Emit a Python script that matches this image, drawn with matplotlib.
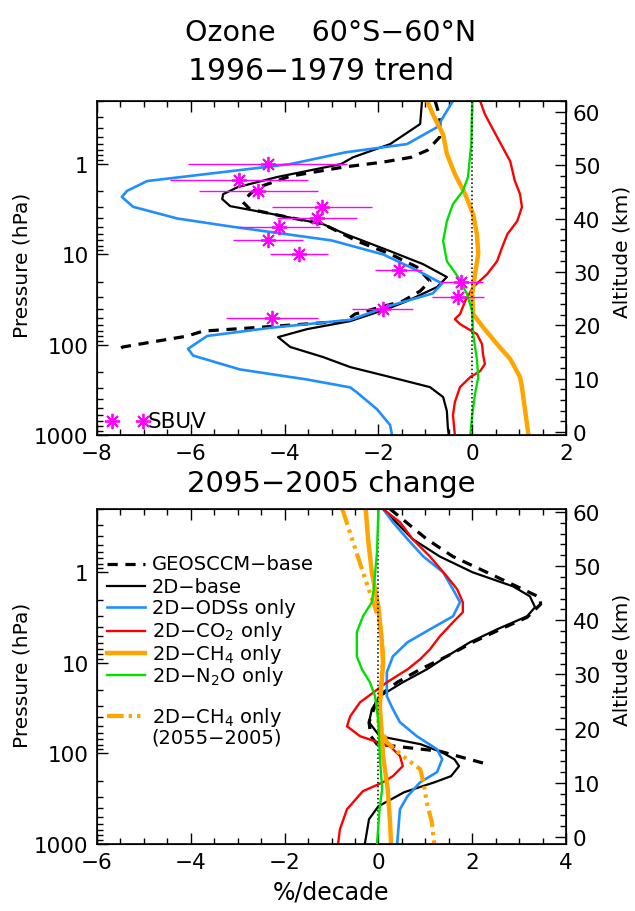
import numpy as np
import matplotlib.pyplot as plt
from matplotlib.ticker import MultipleLocator, LogLocator, NullFormatter

plt.rcParams['font.family'] = 'DejaVu Sans'

# ---------------- 1996-1979 trend (%/decade) ----------------
geos_p_t = [0.2, 0.3, 0.5, 0.7, 0.84, 0.95, 1.08, 1.36, 1.8, 2.15, 2.63, 3.15, 3.58,
            4.62, 5.96, 7.1, 9.9, 13.8, 19.8, 25.5, 32.9, 45.8, 54.8, 63.8, 70.7,
            80.3, 91.3, 106, 121]
geos_t = [-0.79, -0.69, -0.69, -0.95, -1.3, -1.9, -2.75, -3.88, -4.55, -4.74, -4.89,
          -4.74, -4.25, -3.18, -2.75, -2.46, -1.75, -1.18, -0.9, -1.11, -1.48, -2.5,
          -2.7, -4.46, -5.74, -6.08, -6.72, -7.45, -7.62]

base_p_t = [0.2, 0.36, 0.6, 0.84, 1.0, 1.39, 1.8, 2.15, 2.44, 2.92, 3.58, 4.62, 5.96,
            9.2, 12.8, 17.8, 23, 32.9, 40.3, 54.8, 67.2, 82.4, 106, 137, 177, 228,
            295, 380, 543, 816, 1000]
base_t = [-1.07, -1.11, -1.75, -2.54, -2.8, -4.16, -5.0, -5.31, -5.33, -5.16, -4.25,
          -3.18, -2.7, -1.75, -1.05, -0.54, -0.75, -1.39, -1.82, -2.6, -3.52, -4.14,
          -3.88, -3.18, -2.6, -1.75, -0.9, -0.62, -0.54, -0.52, -0.5]

ods_p_t = [0.2, 0.39, 0.6, 0.74, 1.0, 1.54, 1.98, 2.31, 2.97, 4.0, 4.9, 7.0, 10, 15,
           21, 27, 37, 53, 65, 80, 111, 132, 188, 243, 297, 337, 518, 776, 1000]
ods_t = [-0.41, -0.75, -1.39, -2.7, -3.88, -6.93, -7.36, -7.47, -7.23, -6.29, -5.16,
         -3.0, -1.9, -1.18, -0.64, -0.84, -1.75, -2.6, -4.3, -5.65, -6.06, -5.95,
         -4.95, -3.52, -2.6, -2.46, -2.03, -1.75, -1.71]

co2_p_t = [0.2, 0.28, 0.5, 0.93, 1.54, 2.15, 2.99, 4.28, 5.96, 8.3, 11.9, 16.5, 23,
           32.9, 45.8, 52.1, 59.1, 76.3, 98.5, 127, 164, 196, 228, 295, 433, 603, 1000]
co2_t = [0.17, 0.27, 0.53, 0.81, 0.91, 1.02, 1.06, 0.96, 0.75, 0.64, 0.53, 0.32, 0.02,
         -0.15, -0.26, -0.37, -0.26, 0.1, 0.21, 0.23, 0.27, 0.17, -0.04, -0.26, -0.37,
         -0.41, -0.37]

ch4_p_t = [0.2, 0.28, 0.47, 0.77, 1.29, 2.15, 3.58, 5.96, 9.9, 16.5, 27.5, 45.8, 63.8,
           98.5, 144, 228, 295, 543, 1000]
ch4_t = [-0.96, -0.84, -0.62, -0.54, -0.37, -0.15, 0.02, 0.1, 0.13, 0.06, 0.0, 0.02,
         0.23, 0.53, 0.81, 1.02, 1.06, 1.13, 1.2]

n2o_p_t = [0.2, 0.6, 1.39, 1.99, 2.77, 4.28, 7.1, 11.9, 17.8, 27.5, 42.5, 76.3, 144,
           228, 352, 603, 1000]
n2o_t = [0.0, -0.02, -0.09, -0.2, -0.41, -0.54, -0.62, -0.54, -0.3, -0.11, 0.0, 0.02,
         0.1, 0.13, 0.06, 0.0, -0.04]

sbuv_p = [1, 1.5, 2, 3, 4, 5, 7, 10, 15, 20, 30, 40, 50]
sbuv_trend = [-4.36, -4.97, -4.56, -3.2, -3.31, -4.11, -4.35, -3.69, -1.57, -0.23,
              -0.3, -1.91, -4.27]
sbuv_err = [1.69, 1.47, 1.27, 1.06, 0.85, 0.86, 0.74, 0.62, 0.5, 0.46, 0.55, 0.65, 0.98]

# ---------------- 2095-2005 change (%/decade) ----------------
geos_p_c = [0.2, 0.43, 0.67, 1.0, 1.54, 1.89, 2.25, 3.14, 4.26, 5.93, 8.46, 11.8, 16.4,
            23.4, 32.5, 45.3, 64.6, 79, 94.6, 131]
geos_c = [0.25, 1.03, 1.59, 2.31, 3.08, 3.44, 3.46, 3.17, 2.6, 2.01, 1.46, 0.89, 0.4,
          0.0, -0.1, -0.2, -0.16, -0.03, 1.31, 2.31]

base_p_c = [0.2, 0.43, 0.67, 1.0, 1.43, 1.84, 2.43, 3.06, 4.26, 5.93, 8.46, 11.8, 16.4,
            23.4, 32.5, 45.3, 64.6, 79.1, 97, 116, 138, 178, 208, 268, 383, 532, 1000]
base_c = [0.1, 0.73, 1.31, 2.01, 2.87, 3.23, 3.34, 3.17, 2.53, 1.95, 1.46, 1.03, 0.52,
          0.03, -0.14, -0.2, 0.03, 0.9, 1.35, 1.62, 1.72, 1.55, 1.2, 0.55, 0.0, -0.2,
          -0.29]

ods_p_c = [0.2, 0.28, 0.43, 0.67, 1.0, 1.54, 2.14, 3.06, 4.26, 5.93, 8.46, 12.7, 23.4,
           32.5, 45.3, 64.6, 89.9, 116, 161, 208, 297, 413, 1000]
ods_c = [0.1, 0.31, 0.62, 0.96, 1.38, 1.59, 1.74, 1.59, 1.1, 0.62, 0.31, 0.18, 0.18,
         0.31, 0.46, 0.82, 1.25, 1.36, 1.25, 0.89, 0.62, 0.46, 0.4]

co2_p_c = [0.2, 0.28, 0.43, 0.67, 1.11, 1.54, 2.14, 2.76, 3.56, 5.09, 7.08, 9.12, 11.8,
           16.4, 21.1, 27.2, 38.8, 50.1, 64.6, 83.3, 107, 138, 178, 208, 261, 413, 687,
           1000]
co2_c = [0.1, 0.46, 0.73, 1.1, 1.46, 1.68, 1.8, 1.8, 1.59, 1.31, 1.1, 0.89, 0.62, 0.18,
         -0.1, -0.39, -0.6, -0.67, -0.39, 0.25, 0.46, 0.52, 0.31, 0.1, -0.33, -0.67,
         -0.82, -0.86]

ch4_p_c = [0.2, 0.43, 1.0, 2.4, 5.5, 10, 30, 60, 107, 250, 600, 1000]
ch4_c = [-0.27, -0.22, -0.14, 0.0, 0.07, 0.1, 0.03, 0.07, 0.1, 0.2, 0.25, 0.27]

n2o_p_c = [0.2, 0.6, 1.54, 2.14, 3.06, 4.6, 8.46, 11.8, 16.4, 23.4, 45.3, 107, 250,
           383, 1000]
n2o_c = [0.0, -0.03, -0.1, -0.14, -0.33, -0.46, -0.46, -0.35, -0.18, -0.07, 0.0, 0.03,
         0.08, 0.03, -0.03]

ch4_2055_p = [0.2, 0.43, 1.0, 2.14, 3.56, 8.46, 45, 75, 107, 149, 208, 346, 575, 1000]
ch4_2055 = [-0.77, -0.56, -0.33, -0.11, 0.03, 0.1, 0.0, 0.18, 0.52, 0.89, 0.96, 1.03,
            1.14, 1.19]

BLUE = '#1f8fff'
ORANGE = '#ffa500'
GREEN = '#00e000'
MAGENTA = '#ff00ff'
DASHDOT3 = (4, 1.2, 0.8, 1.2, 0.8, 1.2, 0.8, 1.2)

fig = plt.figure(figsize=(6.35, 9.12), dpi=100)
ax1 = fig.add_axes([97 / 635, 1 - 436 / 912, 469 / 635, 334 / 912])
ax3 = fig.add_axes([97 / 635, 1 - 845 / 912, 469 / 635, 335 / 912])


def style(ax, xlim, alt_lim, ylab_y, alt_lab_y):
    ax.set_yscale('log')
    ax.set_ylim(1000, 0.2)
    ax.set_xlim(*xlim)
    ax.xaxis.set_major_locator(MultipleLocator(2))
    ax.xaxis.set_minor_locator(MultipleLocator(0.5))
    ax.set_yticks([1, 10, 100, 1000], labels=['1', '10', '100', '1000'])
    ax.yaxis.set_minor_locator(LogLocator(base=10, subs=np.arange(2, 10)))
    ax.yaxis.set_minor_formatter(NullFormatter())
    ax.tick_params(which='major', length=8)
    ax.tick_params(which='minor', length=4.5)
    ax.tick_params(which='both', direction='in', top=True, right=False, width=1,
                   labelsize=15.5, pad=6)
    for s in ax.spines.values():
        s.set_linewidth(1.2)
    ax.set_ylabel('Pressure (hPa)', fontsize=14.5, va='center')
    ax.yaxis.set_label_coords(-0.16, ylab_y)
    ax.axvline(0, color='k', ls=':', lw=1.1, zorder=4)

    ax2 = ax.twinx()
    ax2.set_ylim(*alt_lim)
    ax2.yaxis.set_major_locator(MultipleLocator(10))
    ax2.yaxis.set_minor_locator(MultipleLocator(2))
    ax2.tick_params(which='major', length=8)
    ax2.tick_params(which='minor', length=4.5)
    ax2.tick_params(which='both', direction='in', width=1, labelsize=15.5, pad=5)
    ax2.set_ylabel('Altitude (km)', fontsize=14.5, rotation=90, va='center')
    ax2.yaxis.set_label_coords(1.12, alt_lab_y)
    return ax2


# ---- top panel ----
style(ax1, (-8, 2), (-0.56, 62.06), 0.51, 0.55)
ax1.plot(geos_t, geos_p_t, color='k', lw=2.3, dashes=(3.2, 2.4))
ax1.plot(base_t, base_p_t, color='k', lw=1.6)
ax1.plot(ods_t, ods_p_t, color=BLUE, lw=1.9)
ax1.plot(co2_t, co2_p_t, color='red', lw=1.7)
ax1.plot(ch4_t, ch4_p_t, color=ORANGE, lw=3.2)
ax1.plot(n2o_t, n2o_p_t, color=GREEN, lw=1.7)
ax1.errorbar(sbuv_trend, sbuv_p, xerr=sbuv_err, fmt='none', ecolor=MAGENTA,
             elinewidth=1.0, capsize=0, zorder=6)
ax1.plot(sbuv_trend, sbuv_p, ls='none', marker=(8, 2, 0), ms=11, mec=MAGENTA,
         mew=1.3, zorder=7)
# SBUV key
ax1.plot([0.032, 0.098], [0.042, 0.042], transform=ax1.transAxes, ls='none',
         marker=(8, 2, 0), ms=11, mec=MAGENTA, mew=1.3, clip_on=False)
ax1.text(0.108, 0.042, 'SBUV', transform=ax1.transAxes, fontsize=15.5,
         va='center', ha='left')

# ---- bottom panel ----
style(ax3, (-6, 4), (-1.3, 60.55), 0.507, 0.552)
ax3.plot(geos_c, geos_p_c, color='k', lw=2.3, dashes=(3.2, 2.4))
ax3.plot(base_c, base_p_c, color='k', lw=1.6)
ax3.plot(ods_c, ods_p_c, color=BLUE, lw=1.9)
ax3.plot(co2_c, co2_p_c, color='red', lw=1.7)
ax3.plot(ch4_c, ch4_p_c, color=ORANGE, lw=3.2)
ax3.plot(n2o_c, n2o_p_c, color=GREEN, lw=1.7, zorder=5)
ax3.plot(ch4_2055, ch4_2055_p, color=ORANGE, lw=3.0, dashes=DASHDOT3)

# legend, drawn by hand like the original
keys = [
    ('GEOSCCM−base', dict(color='k', lw=2.3, dashes=(3.2, 2.4)), 0.836),
    ('2D−base', dict(color='k', lw=1.6), 0.770),
    ('2D−ODSs only', dict(color=BLUE, lw=1.9), 0.707),
    ('2D−CO$_2$ only', dict(color='red', lw=1.7), 0.636),
    ('2D−CH$_4$ only', dict(color=ORANGE, lw=3.2), 0.570),
    ('2D−N$_2$O only', dict(color=GREEN, lw=1.7), 0.504),
    ('2D−CH$_4$ only', dict(color=ORANGE, lw=3.0, dashes=DASHDOT3), 0.382),
]
for label, kw, yk in keys:
    ax3.plot([0.021, 0.102], [yk, yk], transform=ax3.transAxes, **kw)
    ax3.text(0.117, yk, label, transform=ax3.transAxes, fontsize=14,
             va='center', ha='left')
ax3.text(0.117, 0.319, '(2055−2005)', transform=ax3.transAxes, fontsize=14,
         va='center', ha='left')

fig.text(0.521, 0.964, 'Ozone    60°S−60°N', ha='center', va='center', fontsize=20.5)
fig.text(0.505, 0.922, '1996−1979 trend', ha='center', va='center', fontsize=21.5)
fig.text(0.522, 0.469, '2095−2005 change', ha='center', va='center', fontsize=21)
fig.text(0.522, 0.021, '%/decade', ha='center', va='center', fontsize=17)

fig.savefig('out.png', dpi=100)
